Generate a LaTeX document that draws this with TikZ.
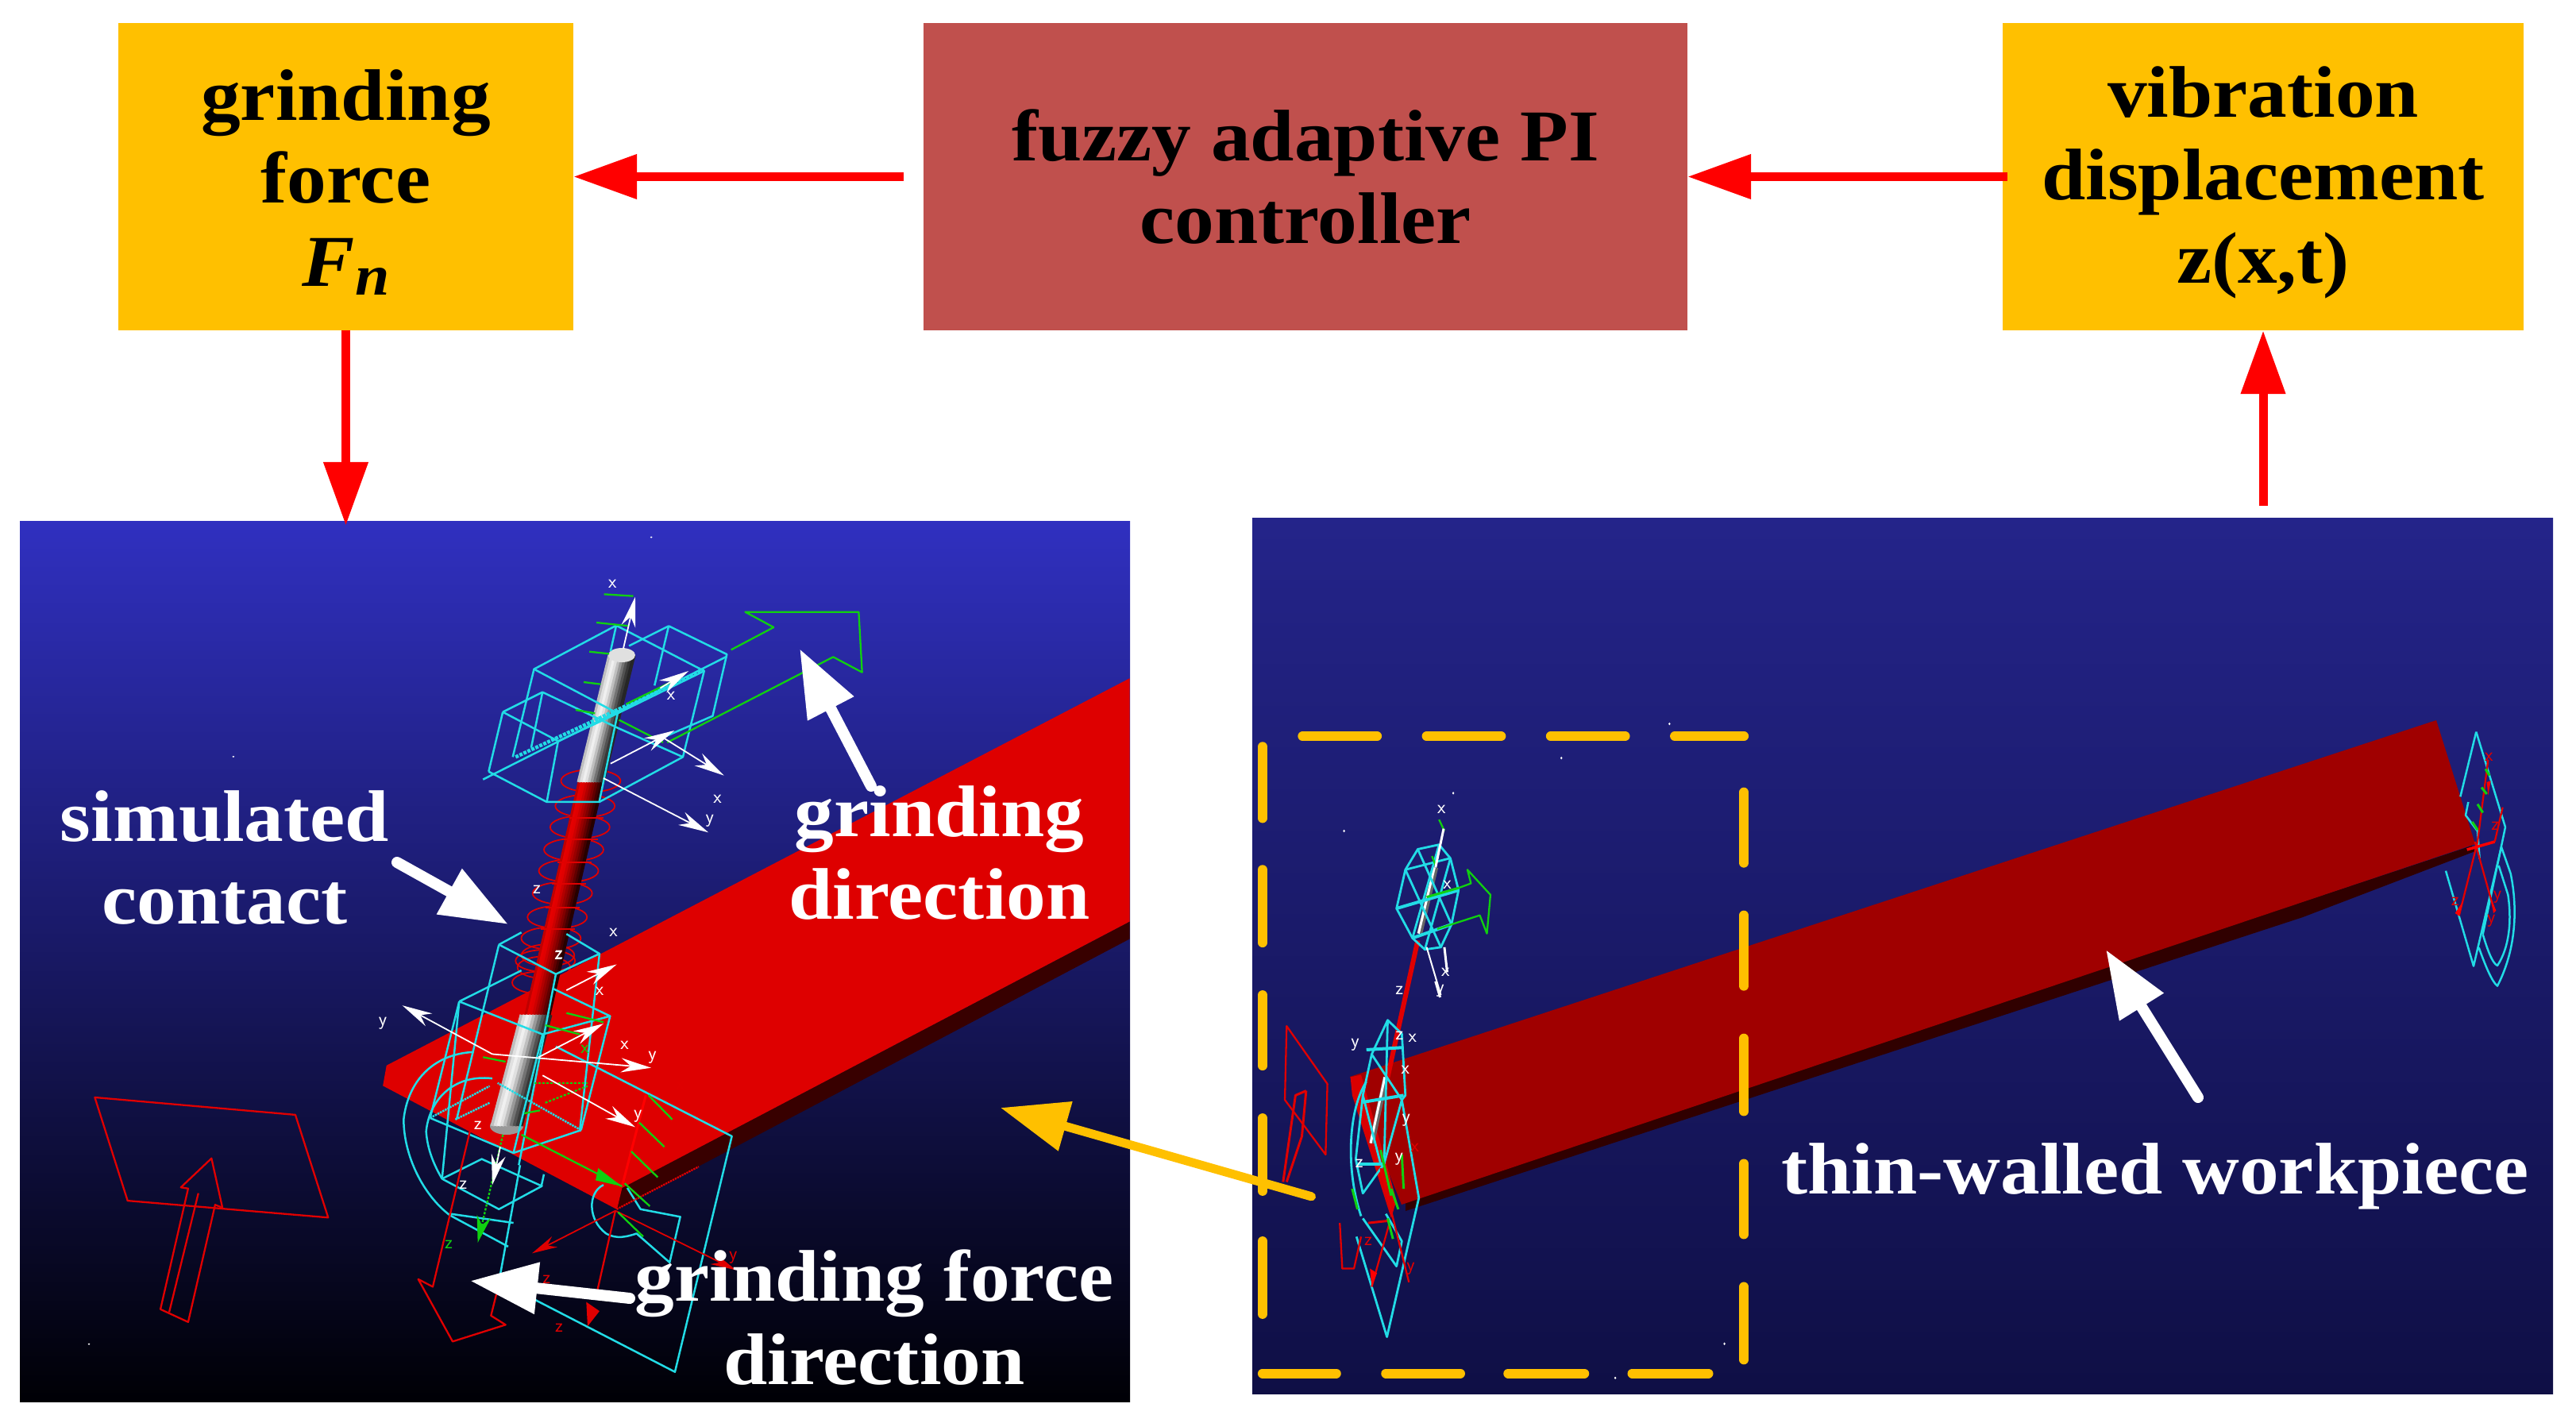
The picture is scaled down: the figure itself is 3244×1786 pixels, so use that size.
\documentclass[tikz,border=0pt]{standalone}
\usepackage{fontspec}
\setmainfont[FakeStretch=1.08]{Liberation Serif}
\usetikzlibrary{arrows.meta}
\definecolor{boxy}{HTML}{FFC000}
\definecolor{boxr}{HTML}{C0504D}
\definecolor{wcy}{HTML}{22DCE6}
\definecolor{wred}{HTML}{E00000}
\definecolor{wgr}{HTML}{10D010}
\definecolor{wpA}{HTML}{DE0000}
\definecolor{wpAd}{HTML}{380000}
\definecolor{wpB}{HTML}{A00000}
\definecolor{wpBd}{HTML}{300000}
\definecolor{pAt}{HTML}{3030C0}
\definecolor{pAm}{HTML}{1B1B6C}
\definecolor{pAb}{HTML}{000005}
\definecolor{pBt}{HTML}{24248A}
\definecolor{pBm}{HTML}{1A1A68}
\definecolor{pBb}{HTML}{0F0F45}
\newcounter{lb}
\newcommand\lab[3]{\stepcounter{lb}\node[lbl,text=#1] (lab\arabic{lb}) at (#2) {#3};}
\newcommand\rodstrips[6]{\foreach \p [count=\i from 0] in {#6} {\draw[line width={#5*0.1pt+1pt},draw=\p] ({#1+(\i-4.5)*#5/10},#2) -- ({#3+(\i-4.5)*#5/10},#4);}}
\newcommand\firstline{\rule{0pt}{78pt}}
\tikzset{
  zA/.style={shift={(0,640)},x=.9184pt,y=-.731pt},
  zB/.style={shift={(1560,880)},x=.4464pt,y=-.574pt},
  zC/.style={shift={(2900,860)},x=.3333pt,y=-.3333pt},
  zD/.style={shift={(500,1180)},x=.3333pt,y=-.383pt},
  zE/.style={shift={(560,720)},x=.3571pt,y=-.3333pt},
  flowbox/.style={draw=none,inner sep=0pt,align=center,font=\fontsize{92}{104.5}\selectfont\bfseries,text=black},
  paneltext/.style={inner sep=0pt,align=center,font=\fontsize{92}{104.5}\selectfont\bfseries,text=white},
  redarrow/.style={draw=red,line width=11pt,-{Triangle[length=80pt,width=54pt]}},
  whitearrow/.style={draw=white,line width=14pt,line cap=round,-{Triangle[length=85pt,width=62pt]}},
  orangearrow/.style={draw=boxy,line width=11pt,line cap=round,-{Triangle[length=85pt,width=62pt]}},
  wire/.style={draw=wcy,line width=2.5pt,line join=round},
  wireB/.style={draw=wcy,line width=2.8pt,line join=round},
  wr/.style={draw=wred,line width=2.3pt,line join=round},
  wg/.style={draw=wgr,line width=2.3pt,line join=round},
  wa/.style={draw=white,line width=1.8pt,-{Stealth[length=38pt,width=18pt]}},
  ra/.style={draw=wred,line width=1.8pt,-{Stealth[length=32pt,width=15pt]}},
  lbl/.style={inner sep=0pt,font=\fontsize{24}{24}\selectfont\sffamily},
  dashO/.style={draw=boxy,line width=12pt,line cap=round},
  speck/.style={fill=white,draw=none},
}
\begin{document}
\begin{tikzpicture}[x=1pt,y=-1pt]
\useasboundingbox[fill=white] (0,0) rectangle (3244,1786);
% flow boxes
\node[flowbox,fill=boxy,minimum width=573pt,minimum height=387pt] (force) at (435.5,222.5) {\firstline grinding\\force\\{\itshape F\raisebox{-0.12em}{\fontsize{72}{72}\selectfont n}}};
\node[flowbox,fill=boxr,minimum width=962pt,minimum height=387pt] (ctrl) at (1644,222.5) {fuzzy adaptive PI\\controller};
\node[flowbox,fill=boxy,minimum width=656pt,minimum height=387pt] (vib) at (2850,222.5) {\firstline vibration\\displacement\\z(x,t)};
% panels
\node[inner sep=0pt,minimum width=1398pt,minimum height=1109pt,shade,top color=pAt,middle color=pAm,bottom color=pAb] (panelA) at (724,1210.5) {};
\node[inner sep=0pt,minimum width=1638pt,minimum height=1103pt,shade,top color=pBt,middle color=pBm,bottom color=pBb] (panelB) at (2396,1203.5) {};
% specks
\begin{scope}[zA]
\foreach \sx/\sy in {893/50,320/428,122/1440} {\fill[speck] (\sx,\sy) circle[radius=1.5];}
\end{scope}
\begin{scope}[zB]
\foreach \sx/\sy in {1215/55,910/130,605/207,297/290,1292/732,682/890,1370/1415,1062/1490} {\fill[speck] (\sx,\sy) circle[radius=3];}
\end{scope}
% === panel A workpiece ===
\begin{scope}[zA]
\fill[wpAd] (853,1171) -- (1549,712) -- (1549,742) -- (846,1208) -- cycle;
\fill[wpA] (530,960) -- (1549,293) -- (1549,712) -- (853,1171) -- (846,1208) -- (525,995) -- cycle;
\end{scope}
% spring
\begin{scope}[zE]
\foreach \cx/\cy in {515/790,495/885,477/965,455/1050,437/1130,415/1215,397/1305,375/1385,355/1470}
  {\draw[wr,line width=1.8pt] (\cx,\cy) ellipse[x radius=105,y radius=42];}
\end{scope}
\begin{scope}[zD]
\foreach \cx/\cy in {570/60,555/100,535/150}
  {\draw[wr,line width=1.8pt] (\cx,\cy) ellipse[x radius=100,y radius=36];}
\end{scope}
% rods
\rodstrips{744}{985}{677}{1278}{32}{red!75!black,red!90!black,red!88!black,red!80!black,red!70!black,red!60!black,red!50!black,red!38!black,red!26!black,red!15!black}
\fill[black!40] (638,1418) ellipse[x radius=21,y radius=11];
\rodstrips{783}{825}{744}{985}{34}{black!25,black!12,black!6,black!12,black!25,black!40,black!55,black!68,black!78,black!85}
\fill[black!12] (783,825) ellipse[x radius=17,y radius=9];
\rodstrips{675}{1278}{638}{1418}{40}{black!25,black!12,black!6,black!12,black!25,black!40,black!55,black!68,black!78,black!85}
\begin{scope}[zE]
\foreach \cx/\cy in {490/930,470/1012,448/1098,428/1178,405/1268,388/1350}
  {\draw[wr,line width=1.8pt] (\cx-50,\cy) -- (\cx+70,\cy);}
\end{scope}
% upper wireframe
\begin{scope}[zE]
\draw[wire] (315,368) -- (605,203) -- (915,375) -- (610,535) -- cycle;
\draw[wire] (205,530) -- (345,455) -- (610,590) -- (840,700);
\draw[wire] (205,530) -- (400,640) -- (610,535);
\draw[wire] (155,755) -- (205,530);
\draw[wire] (155,755) -- (360,870) -- (545,870) -- (840,700) -- (915,375);
\draw[wire] (360,870) -- (400,640);
\draw[wire] (545,870) -- (610,535);
\draw[wire] (315,368) -- (240,700);
\draw[wire] (345,455) -- (305,665);
\draw[wire] (605,203) -- (585,300);
\draw[wire] (790,205) -- (995,312) -- (945,545) -- (740,640);
\draw[wire] (790,205) -- (650,280);
\draw[wire] (790,205) -- (740,430);
\draw[wire] (135,785) -- (995,320);
\draw[wire,line width=4.5pt,dash pattern=on 4pt off 1.5pt] (250,700) -- (915,370);
\draw[wg] (1010,295) -- (1160,210) -- (1060,152) -- (1460,152) -- (1472,380) -- (1370,322) -- (785,645);
\draw[wg] (562,85) -- (665,92);
\draw[wg] (535,192) -- (650,205);
\draw[wg] (510,302) -- (580,310);
\draw[wg] (490,417) -- (550,425);
\draw[wg] (462,522) -- (530,535);
\draw[wg] (615,560) -- (770,645);
\draw[wg] (640,500) -- (830,400);
\draw[wa] (630,290) -- (672,95);
\draw[wa] (585,725) -- (810,600);
\draw[wa] (775,630) -- (985,770);
\draw[wa] (560,780) -- (930,985);
\draw[wa] (760,440) -- (860,375);
\lab{white}{592,47}{x}
\lab{white}{798,470}{x}
\lab{white}{962,860}{x}
\lab{white}{935,940}{y}
\lab{white}{325,1200}{z}
\lab{white}{403,1447}{z}
\lab{white}{595,1362}{x}
\end{scope}
% lower wireframe
\begin{scope}[zD]
\draw[wire] (385,25) -- (600,122) -- (765,55) -- (640,-10);
\draw[wire] (385,25) -- (470,-15);
\draw[wire] (385,25) -- (225,600);
\draw[wire] (765,55) -- (690,640);
\draw[wire] (600,122) -- (460,750);
\draw[wire] (235,212) -- (470,110);
\draw[wire] (235,212) -- (550,320) -- (805,260) -- (590,170);
\draw[wire] (550,320) -- (440,710);
\draw[wire] (805,260) -- (695,635);
\draw[wire] (235,212) -- (125,595);
\draw[wire] (125,595) -- (440,710) -- (695,635);
\draw[wire,densely dotted] (220,600) -- (350,545);
\draw[wire,densely dotted] (695,635) -- (380,480);
\draw[wire,densely dotted] (125,595) -- (350,490);
\draw[wire] (600,360) -- (1265,655) -- (1050,1430) -- (515,1190);
\draw[wire] (170,795) -- (385,895) -- (545,820) -- (555,780);
\draw[wire] (170,795) -- (320,730) -- (550,820);
\draw[wire] (170,795) -- (235,212);
\draw[wire] (465,750) -- (390,1110);
\draw[wire] (200,910) -- (440,940);
\draw[wire] (290,378) .. controls (130,385) and (40,480) .. (25,600) .. controls (25,720) and (100,850) .. (200,915) -- (420,1018);
\draw[wire] (360,465) .. controls (210,450) and (120,540) .. (110,640) .. controls (115,700) and (140,750) .. (170,795);
\draw[wire] (780,815) .. controls (720,840) and (720,930) .. (790,975) .. controls (830,995) and (870,985) .. (905,975) -- (1030,1070) -- (1070,920) -- (920,895) -- (870,825);
\draw[wr] (825,900) -- (755,1170);
\fill[wred] (715,1200) -- (765,1230) -- (720,1280) -- cycle;
\draw[wr] (275,640) -- (135,1150) -- (80,1125) -- (210,1330) -- (410,1275) -- (355,1245) -- (375,1175);
\draw[ra] (825,900) -- (510,1040);
\draw[ra] (825,900) -- (1280,1095);
\draw[wr,draw=red,line width=3pt] (850,820) -- (940,520);
\draw[wr,densely dotted] (830,895) -- (1140,755);
\draw[wg] (470,650) -- (850,820);
\fill[wgr] (760,760) -- (850,820) -- (750,800) -- cycle;
\foreach \ax/\ay/\bx/\by in {950/520/1040/600,915/610/1010/690,885/705/985/790,860/810/955/885,835/905/930/985,640/250/780/280,560/290/690/320,325/395/410/410,480/580/540/570}
  {\draw[wg] (\ax,\ay) -- (\bx,\by);}
\draw[wg,densely dashed,-{Stealth[length=34pt,width=18pt]}] (400,650) -- (305,1005);
\draw[wg,densely dashed] (520,480) -- (720,480);
\draw[wg,densely dashed] (560,545) -- (720,490);
\draw[wa] (360,385) -- (960,430);
\draw[wa] (360,385) -- (20,225);
\draw[wa] (640,175) -- (830,90);
\draw[wa] (535,395) -- (780,285);
\draw[wa] (550,455) -- (900,625);
\draw[wa] (390,690) -- (360,815);
\lab{white}{610,60}{z}
\lab{white}{765,178}{x}
\lab{white}{860,355}{x}
\lab{white}{965,395}{y}
\lab{wgr}{710,370}{x}
\lab{white}{910,590}{y}
\lab{white}{305,620}{z}
\lab{white}{250,815}{z}
\lab{wgr}{195,1010}{z}
\lab{wred}{565,1125}{z}
\lab{wred}{612,1285}{z}
\lab{wred}{1270,1055}{y}
\lab{wred}{1070,490}{x}
\end{scope}
\begin{scope}[zA]
\lab{white}{525,888}{y}
% left red shape
\draw[wr] (130,1015) -- (405,1045) -- (450,1222) -- (175,1193) -- cycle;
\draw[wr] (290,1120) -- (248,1170) -- (258,1172) -- (220,1380) -- (258,1402) -- (295,1200) -- (305,1205) -- cycle;
\draw[wr] (272,1180) -- (232,1385);
\end{scope}
% === panel B workpiece ===
\fill[wpBd] (1770,1510) -- (3113,1065) -- (3117,1072) -- (2900,1155) -- (1770,1525) -- cycle;
\fill[wpB] (1700,1356) -- (3068,907) -- (3117,1063) -- (1765,1517) -- cycle;
\begin{scope}[zB]
\fill[red!85!black] (315,830) -- (345,825) -- (445,1100) -- (430,1140) -- (320,870) -- cycle;
\draw[wred,line width=6pt] (505,530) -- (420,830);
\draw[black!60,line width=7pt] (555,370) -- (510,515);
\draw[white,line width=3pt] (552,370) -- (507,515);
\draw[black!60,line width=7pt] (415,830) -- (375,975);
\draw[white,line width=3pt] (412,830) -- (372,975);
\draw[wireB] (445,460) -- (470,375) -- (505,330) -- (565,320) -- (597,350) -- (620,420) -- (600,495) -- (570,545) -- (525,550) -- (490,525) -- cycle;
\draw[wireB] (470,375) -- (595,350);
\draw[wireB,line width=4pt] (445,460) -- (620,420);
\draw[wireB,line width=4pt] (490,525) -- (600,495);
\draw[wireB] (505,330) -- (600,495);
\draw[wireB] (470,375) -- (570,545);
\draw[wireB] (565,320) -- (490,525);
\draw[wireB] (597,350) -- (525,550);
\draw[wg] (620,415) -- (655,405) -- (645,375) -- (710,430) -- (700,515) -- (680,475) -- (560,505);
\draw[wg,line width=3pt] (530,435) -- (620,415);
\draw[wg] (565,265) -- (580,290);
\draw[wg] (545,345) -- (555,365);
\draw[draw=white,line width=3pt] (578,285) -- (555,370);
\draw[draw=white,line width=2pt] (530,545) -- (570,650);
\draw[draw=white,line width=3pt] (555,620) -- (568,655);
\draw[draw=white,line width=3pt] (580,545) -- (588,600);
\draw[wireB] (330,1010) -- (350,870) -- (375,780) -- (420,705) -- (460,735) -- (470,870) -- (460,880) -- (410,1020) -- (350,1085) -- cycle;
\draw[wireB,line width=4pt] (360,770) -- (465,765);
\draw[wireB,line width=4pt] (350,885) -- (465,870);
\draw[wireB,line width=4pt] (335,1020) -- (410,1020);
\draw[wireB] (420,705) -- (410,1020);
\draw[wireB] (375,780) -- (460,880);
\draw[wireB] (350,870) -- (400,1020);
\draw[wireB] (360,840) .. controls (310,900) and (300,1030) .. (345,1135);
\draw[wireB] (460,880) -- (508,1095) -- (418,1400) -- (332,1180);
\draw[wireB] (350,1140) -- (445,1245) -- (460,1190) -- (415,1130);
\draw[wr] (135,718) -- (250,845) -- (245,1000) -- (130,880) -- cycle;
\draw[wr,line width=3pt] (190,860) -- (160,870) -- (125,1060);
\draw[wr,line width=3pt] (190,860) -- (178,960) -- (135,1060);
\draw[wr] (285,1150) -- (292,1250) -- (325,1250) -- (345,1180);
\draw[wr,line width=3pt] (365,1150) -- (425,1145);
\draw[wr] (425,1150) -- (375,1290);
\draw[wr] (400,1030) -- (480,1280);
\fill[red] (370,1250) -- (390,1260) -- (375,1290) -- cycle;
\foreach \ax/\ay/\bx/\by in {320/1075/335/1120,430/1075/450/1120,400/990/430/1090,460/1000/465/1075,420/1140/435/1185}
  {\draw[wg,line width=3pt] (\ax,\ay) -- (\bx,\by);}
\lab{white}{572,243}{x}
\lab{white}{588,408}{x}
\lab{white}{583,600}{x}
\lab{white}{568,640}{y}
\lab{white}{453,640}{z}
\lab{white}{453,740}{z}
\lab{white}{490,745}{x}
\lab{white}{328,760}{y}
\lab{white}{470,815}{x}
\lab{white}{472,925}{y}
\lab{white}{452,1010}{y}
\lab{white}{340,1020}{z}
\lab{wred}{365,1190}{z}
\lab{wred}{485,1250}{y}
\lab{wred}{497,985}{x}
\end{scope}
\begin{scope}[zC]
\draw[wire] (655,185) -- (595,430);
\draw[wire] (655,185) -- (765,545) -- (680,950);
\draw[wire] (625,450) -- (615,500) -- (660,560) -- (668,665);
\draw[wire] (540,710) -- (645,1070) -- (750,620) -- (785,720) .. controls (810,840) and (810,1000) .. (735,1145) .. controls (715,1130) and (690,1070) .. (665,1000);
\draw[wire] (740,690) -- (775,800) .. controls (790,900) and (780,1000) .. (735,1068) .. controls (715,1060) and (695,1000) .. (680,950);
\draw[wr] (700,290) -- (660,600) -- (590,880);
\draw[wr] (650,600) -- (720,850);
\draw[wr,draw=red,line width=3.5pt] (620,630) -- (725,600);
\draw[wr] (725,600) -- (755,470);
\fill[red] (695,375) -- (710,370) -- (700,425) -- cycle;
\fill[red] (575,870) -- (605,825) -- (590,880) -- cycle;
\fill[red] (710,810) -- (730,860) -- (720,870) -- cycle;
\foreach \ax/\ay/\bx/\by in {690/325/705/350,675/395/695/420,660/458/680/490,640/525/660/555}
  {\draw[wg,line width=3pt] (\ax,\ay) -- (\bx,\by);}
\lab{wred}{703,280}{x}
\lab{wred}{735,810}{y}
\lab{wred}{575,825}{z}
\lab{wred}{712,900}{y}
\lab{wred}{727,540}{z}
\end{scope}
% dashed rectangle
\begin{scope}[zB]
\foreach \a/\b in {180/390,530/740,880/1090,1230/1425}
  {\draw[dashO] (\a,82) -- (\b,82);}
\foreach \a/\b in {205/360,475/630,745/905,1020/1175,1290/1450}
  {\draw[dashO] (1425,\a) -- (1425,\b);}
\foreach \a/\b in {105/262,375/535,650/805,920/1080,1190/1350}
  {\draw[dashO] (67,\a) -- (67,\b);}
\foreach \a/\b in {67/275,415/625,760/975,1110/1325}
  {\draw[dashO] (\a,1480) -- (\b,1480);}
\coordinate (orangeTail) at (205,1092);
\end{scope}
% arrows between nodes
\draw[redarrow] ([xshift=-25pt]ctrl.west) -- (force.east);
\draw[redarrow] ([xshift=6pt]vib.west) -- (ctrl.east);
\draw[redarrow] (force.south) -- ([yshift=-6pt]force.south |- panelA.north);
\draw[redarrow] ([yshift=15pt]vib.south |- panelB.north) -- (vib.south);
% orange and white arrows
\coordinate (orangeTip) at (1260,1395);
\draw[orangearrow] (orangeTail) -- (orangeTip);
\coordinate (gdTail) at (1097,990); \coordinate (gdTip) at (1007,817);
\draw[whitearrow] (gdTail) -- (gdTip);
\coordinate (scTail) at (500,1086); \coordinate (scTip) at (640,1164);
\draw[whitearrow] (scTail) -- (scTip);
\coordinate (gfTail) at (793,1635); \coordinate (gfTip) at (592,1613);
\draw[whitearrow] (gfTail) -- (gfTip);
\coordinate (twTail) at (2768,1382); \coordinate (twTip) at (2652,1196);
\draw[whitearrow] (twTail) -- (twTip);
% panel labels
\node[paneltext] (simtext) at (283,1080) {simulated\\contact};
\node[paneltext] (dirtext) at (1183,1074) {grinding\\direction};
\node[paneltext] (fdirtext) at (1101,1659) {grinding force\\direction};
\node[paneltext] (wptext) at (2714,1481) {thin-walled workpiece};
\end{tikzpicture}
\end{document}
